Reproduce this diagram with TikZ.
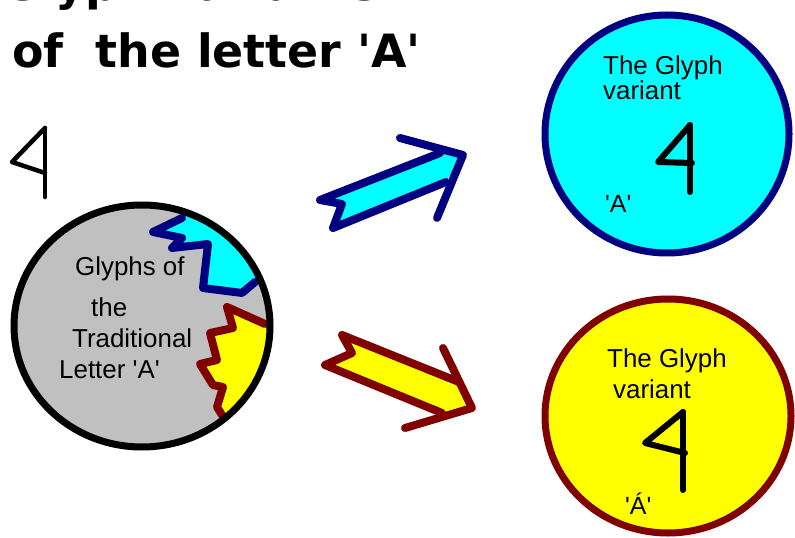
\documentclass[tikz,border=0pt]{standalone}
\usepackage{fontspec}
\setmainfont{Liberation Sans}
\newfontfamily\titlefont{DejaVu Sans}
\definecolor{navyc}{HTML}{000080}
\definecolor{maroonc}{HTML}{800000}
\definecolor{cyanc}{HTML}{00FFFF}
\definecolor{yellowc}{HTML}{FFFF00}
\definecolor{greyc}{HTML}{C0C0C0}
\newcommand{\qs}{\textquotesingle}
\begin{document}
\begin{tikzpicture}[x=1bp,y=-1bp,
  ttl/.style={inner sep=0pt,anchor=base west,font=\titlefont\bfseries\fontsize{46}{50}\selectfont},
  lbl/.style={inner sep=0pt,anchor=base west,font=\fontsize{26}{30}\selectfont},
  sml/.style={inner sep=0pt,anchor=base west,font=\fontsize{25}{28}\selectfont},
  zig/.style={line width=8bp,line cap=round,line join=round},
  glyphline/.style={line width=6bp,line cap=round,line join=round,black}]
\useasboundingbox (0,0) rectangle (795,538);
\fill[white] (0,0) rectangle (795,538);
% title
\node[ttl] (t1) at (2,1) {Glyph variants};
\node[ttl] (t2) at (12,68) {of\ \ the letter 'A'};
% small glyph
\draw[glyphline,line width=4.5bp] (45,128) -- (12,162) -- (45,173);
\draw[glyphline,line width=4.5bp] (45,128) -- (45,197);
% grey circle
\fill[greyc] (142,326) ellipse [x radius=128,y radius=121];
\begin{scope}
  \clip (142,326) ellipse [x radius=128,y radius=121];
  \fill[cyanc] (182,218) -- (153,232) -- (182,238) -- (172,248) -- (208,244) -- (203,288) -- (242,293) -- (255,282) -- (300,282) -- (300,150) -- (182,150) -- cycle;
  \fill[yellowc] (265,324) -- (227,307) -- (233,328) -- (210,333) -- (217,360) -- (200,364) -- (213,385) -- (223,387) -- (217,407) -- (222,415) -- (222,450) -- (300,450) -- (300,324) -- cycle;
\end{scope}
\draw[zig,navyc] (182,218) -- (153,232) -- (182,238) -- (172,248) -- (208,244) -- (203,288) -- (242,293) -- (255,282);
\draw[zig,maroonc] (265,324) -- (227,307) -- (233,328) -- (210,333) -- (217,360) -- (200,364) -- (213,385) -- (223,387) -- (217,407) -- (222,415);
\draw[black,line width=7bp] (142,326) ellipse [x radius=128,y radius=121];
\node[lbl] (g1) at (75,276) {Glyphs of};
\node[lbl] (g2) at (91,317) {the};
\node[lbl] (g3) at (72,347) {Traditional};
\node[lbl] (g4) at (59,378) {Letter \qs A\qs};
% cyan arrow
\fill[cyanc] (320,200) -- (440,153) -- (463,155) -- (446,182) -- (333,228) -- (342,204) -- cycle;
\draw[zig,navyc] (440,153) -- (320,200) -- (342,204) -- (333,228) -- (446,182);
\draw[zig,navyc] (400,138) -- (463,155) -- (437,218);
% yellow arrow
\fill[yellowc] (342,335) -- (459,382) -- (472,408) -- (442,413) -- (325,365) -- (352,353) -- cycle;
\draw[zig,maroonc] (459,382) -- (342,335) -- (352,353) -- (325,365) -- (442,413);
\draw[zig,maroonc] (443,348) -- (472,408) -- (405,428);
% top right circle
\filldraw[fill=cyanc,draw=navyc,line width=7bp] (667,134) ellipse [x radius=122,y radius=119];
\node[lbl] (c1a) at (603,75) {The Glyph};
\node[lbl] (c1b) at (603,100) {variant};
\draw[glyphline] (690,125) -- (658,162) -- (692,163);
\draw[glyphline] (690,125) -- (690,192);
\node[sml] (c1c) at (605,213) {\qs A\qs};
% bottom right circle
\filldraw[fill=yellowc,draw=maroonc,line width=7bp] (668,416) ellipse [x radius=123,y radius=117];
\node[lbl] (c2a) at (607,367) {The Glyph};
\node[lbl] (c2b) at (613,398) {variant};
\draw[glyphline] (683,412) -- (645,443) -- (685,453);
\draw[glyphline] (683,412) -- (683,490);
\node[sml] (c2c) at (625,514) {\qs Á\qs};
\end{tikzpicture}
\end{document}
